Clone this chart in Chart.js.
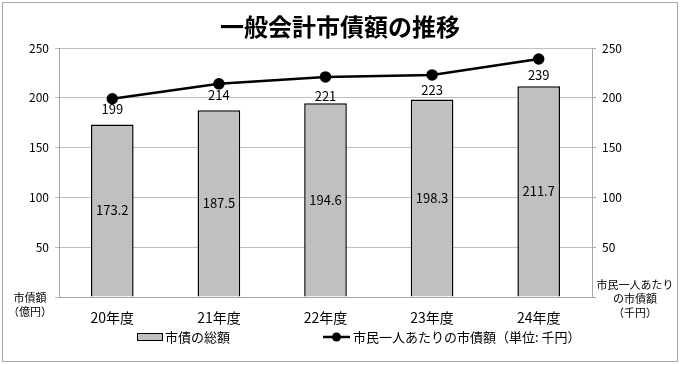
<!DOCTYPE html>
<html lang="ja">
<head>
  <meta charset="UTF-8" />
  <title>一般会計市債額の推移</title>
  <style>
    * { margin: 0; padding: 0; box-sizing: border-box; }
    body { background: #fff; width: 681px; height: 365px; overflow: hidden; }
    #debtChart { display: block; }
  </style>
</head>
<body>
  <canvas id="debtChart" width="681" height="365"></canvas>
  <script src="https://cdn.jsdelivr.net/npm/chart.js"></script>
  <script>
    // chart data
    const categories = ["20年度", "21年度", "22年度", "23年度", "24年度"];
    const totalDebt = [173.2, 187.5, 194.6, 198.3, 211.7];   // 億円
    const perCapita = [199, 214, 221, 223, 239];             // 千円
    const axisMin = 0;
    const axisMax = 250;
    const axisStep = 50;

    const titleText = "一般会計市債額の推移";
    const leftAxisLabel = ["市債額", "（億円）"];
    const rightAxisLabel = ["市民一人あたり", "の市債額", "（千円）"];
    const barLegend = "市債の総額";
    const lineLegend = "市民一人あたりの市債額（単位: 千円）";

    const FONT = '"Noto Sans CJK JP", "Noto Sans", sans-serif';

    /* background, frame, title, side labels, legend */
    const decorPlugin = {
      id: "decor",
      beforeDraw(chart) {
        const ctx = chart.ctx;
        ctx.save();
        ctx.fillStyle = "#fff";
        ctx.fillRect(0, 0, chart.width, chart.height);
        ctx.strokeStyle = "#a6a6a6";
        ctx.lineWidth = 1;
        ctx.strokeRect(2.5, 2.5, chart.width - 6, chart.height - 6);
        ctx.restore();
      },
      afterDraw(chart) {
        const ctx = chart.ctx;
        ctx.save();
        ctx.fillStyle = "#000";
        ctx.textAlign = "center";
        ctx.textBaseline = "middle";

        // title
        ctx.font = "bold 24px " + FONT;
        ctx.fillText(titleText, 340, 27);

        // axis unit labels
        ctx.font = "11px " + FONT;
        leftAxisLabel.forEach((t, i) => ctx.fillText(t, 30, 298 + i * 14));
        rightAxisLabel.forEach((t, i) => ctx.fillText(t, 635, 285 + i * 14));

        // legend
        const ly = 337;
        ctx.textAlign = "left";
        ctx.font = "13px " + FONT;
        ctx.fillStyle = "#c0c0c0";
        ctx.fillRect(137, ly - 4, 26, 8);
        ctx.strokeStyle = "#000";
        ctx.lineWidth = 1;
        ctx.strokeRect(137.5, ly - 3.5, 25, 7);
        ctx.fillStyle = "#000";
        ctx.fillText(barLegend, 165, ly);

        ctx.lineWidth = 2.5;
        ctx.beginPath();
        ctx.moveTo(323, ly);
        ctx.lineTo(350, ly);
        ctx.stroke();
        ctx.beginPath();
        ctx.arc(336.5, ly, 4.5, 0, Math.PI * 2);
        ctx.fill();
        ctx.fillText(lineLegend, 353, ly);
        ctx.restore();
      }
    };

    /* value labels on bars and below line points */
    const lineLabelGap = [10, 11, 19, 15, 16];  // label spacing below each point, as placed in the original
    const valueLabelPlugin = {
      id: "valueLabels",
      afterDatasetsDraw(chart) {
        const ctx = chart.ctx;
        ctx.save();
        ctx.fillStyle = "#000";
        ctx.textAlign = "center";
        ctx.textBaseline = "middle";
        ctx.font = "13px " + FONT;

        const barMeta = chart.getDatasetMeta(1);
        barMeta.data.forEach((bar, i) => {
          ctx.fillText(totalDebt[i].toFixed(1), bar.x, (bar.y + bar.base) / 2);
        });

        const lineMeta = chart.getDatasetMeta(0);
        lineMeta.data.forEach((pt, i) => {
          ctx.fillText(String(perCapita[i]), pt.x, pt.y + lineLabelGap[i]);
        });
        ctx.restore();
      }
    };

    const tickFont = { family: FONT, size: 12 };
    const hideZero = v => (v === 0 ? "" : v);

    new Chart(document.getElementById("debtChart"), {
      type: "bar",
      data: {
        labels: categories,
        datasets: [
          {
            type: "line",
            label: lineLegend,
            data: perCapita,
            yAxisID: "y1",
            borderColor: "#000",
            backgroundColor: "#000",
            borderWidth: 2.5,
            pointRadius: 4.5,
            pointBackgroundColor: "#000",
            tension: 0,
            order: 0
          },
          {
            type: "bar",
            label: barLegend,
            data: totalDebt,
            yAxisID: "y",
            backgroundColor: "#c0c0c0",
            borderColor: "#000",
            borderWidth: 1.5,
            barPercentage: 0.4,
            categoryPercentage: 1,
            order: 1
          }
        ]
      },
      options: {
        responsive: false,
        animation: false,
        events: [],
        layout: { padding: { left: 10, right: 40, top: 48, bottom: 40 } },
        scales: {
          x: {
            grid: { display: false, drawTicks: false },
            border: { color: "#a6a6a6" },
            ticks: { color: "#000", font: { family: FONT, size: 14 }, padding: 12 },
            afterFit(scale) { scale.height = 28; }
          },
          y: {
            position: "left",
            min: axisMin,
            max: axisMax,
            ticks: { stepSize: axisStep, color: "#000", font: tickFont, callback: hideZero, padding: 6 },
            grid: { color: "#bfbfbf", tickLength: 4 },
            border: { color: "#a6a6a6" },
            afterFit(scale) { scale.width = 49; }
          },
          y1: {
            position: "right",
            min: axisMin,
            max: axisMax,
            ticks: { stepSize: axisStep, color: "#000", font: tickFont, callback: hideZero, padding: 6 },
            grid: { drawOnChartArea: false, color: "#a6a6a6", tickLength: 4 },
            border: { color: "#a6a6a6" },
            afterFit(scale) { scale.width = 49; }
          }
        },
        plugins: {
          legend: { display: false },
          title: { display: false },
          tooltip: { enabled: false }
        }
      },
      plugins: [decorPlugin, valueLabelPlugin]
    });
  </script>
</body>
</html>
